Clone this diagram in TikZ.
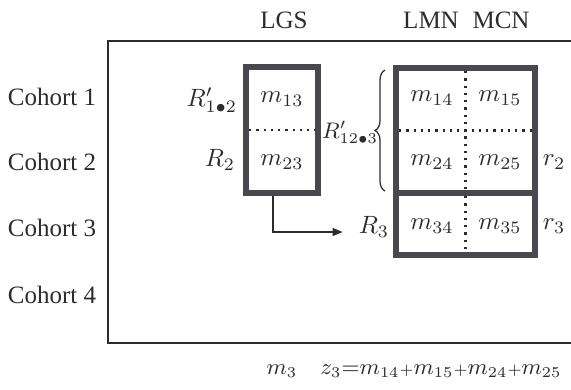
\documentclass[tikz,border=0pt]{standalone}
\usepackage{fontspec}
\setmainfont{Liberation Serif}
\usetikzlibrary{arrows.meta, positioning, calc, decorations.pathreplacing}
\definecolor{boxGray}{HTML}{48484E}
\definecolor{inkDark}{HTML}{2B2B30}
\newcommand{\rdot}{\bullet}
\newcommand{\tplus}{{\scriptstyle+}}

\begin{document}
\begin{tikzpicture}[x=0.4pt, y=-0.4pt,
    every node/.style={text=inkDark},
    mlabel/.style={font=\normalsize},
    sumlabel/.style={font=\small},
    heavybox/.style={draw=boxGray, line width=2.4pt, inner sep=0pt},
    sepline/.style={dotted, line width=0.9pt, color=inkDark},
    frameline/.style={line width=0.7pt, color=inkDark},
    link/.style={-{Triangle[length=4pt, width=3.2pt]}, line width=0.5pt,
      color=inkDark, shorten >=3pt}]
  \useasboundingbox (0,0) rectangle (571,389);

  % outer frame, open on the right
  \draw[frameline] (571,41) -- (108,41) -- (108,343) -- (571,343);

  % column heads
  \node (hLGS) at (284,20) {LGS};
  \node (hLMN) at (431,20) {LMN};
  \node (hMCN) at (501,20) {MCN};

  % row labels
  \foreach \k/\y in {1/97, 2/162, 3/228, 4/295}
    \node (cohort\k) at (52,\y) {Cohort \k};

  % heavy boxes
  \node[heavybox, minimum width=28.8pt, minimum height=50.4pt] (lgs) at (282,130) {};
  \node[heavybox, minimum width=55.6pt, minimum height=50pt] (upper) at (465.5,130.5) {};
  \node[heavybox, minimum width=55.6pt, minimum height=24.8pt] (lower) at (465.5,224) {};

  % dotted cell borders
  \draw[sepline] ([xshift=2.4pt]lgs.west) -- ([xshift=-2.4pt]lgs.east);
  \draw[sepline] ([xshift=2.4pt]upper.west) -- ([xshift=-2.4pt]upper.east);
  \draw[sepline] ([yshift=-2.4pt]upper.north) -- ([yshift=2.4pt]upper.south);
  \draw[sepline] ([yshift=-2.4pt]lower.north) -- ([yshift=2.4pt]lower.south);

  % cells
  \node[mlabel] (m13) at (282,99) {$m_{13}$};
  \node[mlabel] (m23) at (282,162) {$m_{23}$};
  \node[mlabel] (m14) at (432,98) {$m_{14}$};
  \node[mlabel] (m15) at (500,98) {$m_{15}$};
  \node[mlabel] (m24) at (432,162) {$m_{24}$};
  \node[mlabel] (m25) at (500,162) {$m_{25}$};
  \node[mlabel] (m34) at (432,226) {$m_{34}$};
  \node[mlabel] (m35) at (500,226) {$m_{35}$};

  % side labels
  \node[mlabel, anchor=east, inner sep=1pt] (R12) at (240,100) {$R^{\prime}_{1\rdot2}$};
  \node[mlabel, anchor=east, inner sep=1pt] (R2) at (238,160) {$R_2$};
  \node[sumlabel, anchor=east, inner sep=1pt] (R123) at (381,132) {$R^{\prime}_{12\rdot3}$};
  \node[mlabel] (R3) at (374,227) {$R_3$};
  \node[mlabel] (r2) at (554,162) {$r_2$};
  \node[mlabel] (r3) at (554,226) {$r_3$};

  \draw[decorate, decoration={brace, amplitude=4pt}, line width=0.5pt, color=inkDark]
    ([xshift=-3.2pt, yshift=2pt]upper.south west) -- ([xshift=-3.2pt, yshift=-2pt]upper.north west);
  \draw[link] ([xshift=-3.6pt]lgs.south) |- ([yshift=-2pt]R3.west);

  % totals
  \node[sumlabel] (m3) at (282,371) {$m_3$};
  \node[sumlabel] (zsum) at (441,371) {$z_3{=}m_{14}\tplus m_{15}\tplus m_{24}\tplus m_{25}$};
\end{tikzpicture}
\end{document}
